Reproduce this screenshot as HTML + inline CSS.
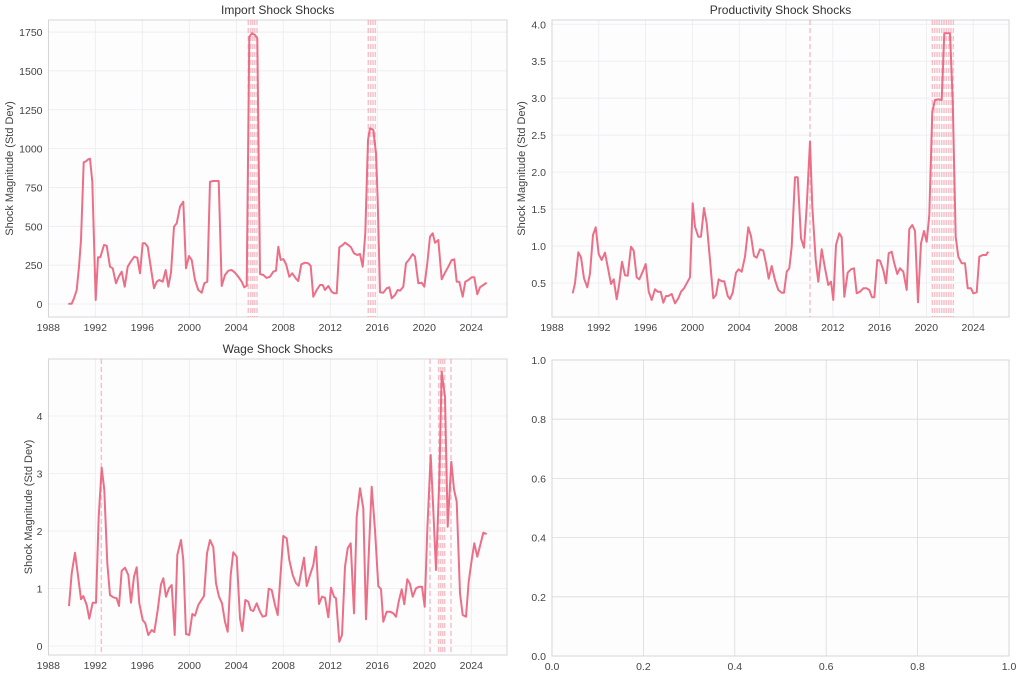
<!DOCTYPE html>
<html><head><meta charset="utf-8">
<style>
html,body{margin:0;padding:0;background:#fff;}
svg{display:block;font-family:"Liberation Sans",sans-serif;}
</style></head>
<body>
<svg id="s" width="1024" height="679" viewBox="0 0 1024 679" xmlns="http://www.w3.org/2000/svg">
<rect width="1024" height="679" fill="#ffffff"/>
</svg>
<script>
const S=document.getElementById('s');const NS='http://www.w3.org/2000/svg';
function el(t,a,txt){const e=document.createElementNS(NS,t);for(const k in a)e.setAttribute(k,a[k]);if(txt!==undefined)e.textContent=txt;S.appendChild(e);return e;}
function dl(d,y0,y1){el('line',{x1:d,x2:d,y1:y0,y2:y1,stroke:'#f49aa8','stroke-width':1.5,'stroke-dasharray':'5 3',opacity:0.6});}
function panel(o){
 el('rect',{x:o.x0,y:o.y0,width:o.x1-o.x0,height:o.y1-o.y0,fill:'#fdfdfe'});
 o.xt.forEach(t=>{el('line',{x1:t[0],x2:t[0],y1:o.y0,y2:o.y1,stroke:o.gc,'stroke-width':0.8});
  el('text',{x:t[0],y:o.y1+14,'font-size':10.5,fill:'#444','text-anchor':'middle'},t[1]);});
 o.yt.forEach(t=>{el('line',{x1:o.x0,x2:o.x1,y1:t[0],y2:t[0],stroke:o.gc,'stroke-width':0.8});
  el('text',{x:o.x0-6,y:t[0]+4,'font-size':10.5,fill:'#444','text-anchor':'end'},t[1]);});
 el('rect',{x:o.x0,y:o.y0,width:o.x1-o.x0,height:o.y1-o.y0,fill:'none',stroke:'#d6d6d9','stroke-width':1});
 if(o.title)el('text',{x:(o.x0+o.x1)/2,y:o.y0-6,'font-size':12,fill:'#333','text-anchor':'middle'},o.title);
 if(o.ylab){const cx=o.ylx,cy=(o.y0+o.y1)/2;el('text',{x:cx,y:cy,'font-size':11,fill:'#444','text-anchor':'middle',transform:`rotate(-90 ${cx} ${cy})`},o.ylab);}
 (o.dash||[]).forEach(d=>dl(d,o.y0,o.y1));
 if(o.pts){const p=o.pts.trim().split(/\s+/).map(s=>{const [a,b]=s.split(',').map(Number);return (a/3+o.ox).toFixed(1)+','+(b/3+o.oy).toFixed(1);}).join(' ');
  el('polyline',{points:p,fill:'none',stroke:'#ea5f7b','stroke-width':2,'stroke-linejoin':'round',opacity:0.9});}
}
function yrs(x0,per){const a=[];for(let i=0;i<10;i++)a.push([x0+i*per,String(1988+4*i)]);return a;}
panel({x0:48.5,x1:507,y0:20,y1:317,gc:'#ececf0',title:'Import Shock Shocks',ylab:'Shock Magnitude (Std Dev)',ylx:13,
 xt:yrs(48.3,47),yt:[0,250,500,750,1000,1250,1500,1750].map(v=>[304-v*0.1554,String(v)]),
 dash:[248.3,250.7,252.7,254.7,257,368.3,370.7,373,375.3],ox:0,oy:0,
 pts:`205,911 215,911 222,895 230,870 237,800 243,720 251,487 258,484 265,478 270,476 277,545 287,900 294,772 301,772 312,735 320,737 330,800 338,805 348,850 356,830 365,815 374,860 383,800 392,785 403,770 412,773 420,820 428,730 435,730 443,740 452,800 462,865 470,845 478,840 488,845 497,810 505,860 513,818 522,680 530,670 540,620 550,605 558,805 567,768 575,780 585,840 595,870 605,878 613,850 622,845 630,545 640,543 656,543 665,858 675,825 685,812 695,810 705,818 715,830 725,845 733,862 740,857 748,110 756,100 765,105 772,115 780,822 790,825 800,834 810,830 820,815 828,812 835,740 842,780 850,777 858,792 868,830 877,820 887,835 895,843 904,793 915,788 925,790 932,798 940,890 950,870 960,855 968,855 975,870 985,858 995,875 1002,880 1010,880 1018,742 1028,735 1035,728 1045,735 1053,742 1062,760 1072,765 1080,762 1088,800 1096,700 1104,420 1110,385 1120,390 1128,460 1133,600 1140,877 1150,878 1160,865 1168,862 1175,895 1185,885 1193,870 1200,872 1210,860 1218,790 1228,778 1238,762 1245,770 1255,850 1265,848 1273,860 1282,790 1290,710 1298,700 1305,728 1315,720 1325,838 1335,818 1345,800 1355,780 1363,778 1370,845 1378,845 1388,890 1396,845 1405,840 1415,832 1423,832 1432,883 1440,862 1450,855 1460,848`});
const pr=[];for(let v=0.5;v<=4.01;v+=0.5)pr.push([283-(v-0.5)/0.5*36.96,v.toFixed(1)]);
const dtr=[810];for(let i=0;i<10;i++)dtr.push(500+(1297+i*7)/3);
panel({x0:552,x1:1009,y0:20,y1:317,gc:'#ececf0',title:'Productivity Shock Shocks',ylab:'Shock Magnitude (Std Dev)',ylx:525,
 xt:yrs(552,46.8),yt:pr,dash:dtr,ox:500,oy:0,
 pts:`218,880 225,850 235,757 243,772 252,835 262,862 270,820 279,705 287,682 296,762 305,780 315,758 323,800 333,852 341,838 350,898 358,850 366,785 375,826 383,827 393,740 401,752 410,832 418,838 428,815 437,792 446,875 455,900 465,868 473,875 482,875 490,908 498,888 505,888 515,882 525,910 535,895 543,875 552,865 560,850 570,832 578,610 585,680 595,710 603,710 612,624 620,670 630,780 640,895 648,885 656,838 665,844 673,844 683,888 690,897 698,878 708,818 716,808 725,815 735,770 745,682 753,708 762,768 770,773 780,748 790,752 798,790 806,836 815,798 825,840 835,870 845,878 852,878 860,815 868,805 875,740 885,532 893,532 903,715 912,743 920,620 930,425 937,620 947,780 955,845 965,748 975,805 985,855 993,845 1000,900 1008,735 1018,700 1025,712 1033,890 1043,818 1053,808 1062,805 1070,880 1080,875 1090,865 1100,865 1108,870 1116,892 1123,892 1132,780 1140,782 1150,810 1158,850 1166,760 1175,755 1183,790 1192,822 1200,805 1210,815 1220,870 1228,687 1237,675 1245,693 1254,907 1263,730 1272,693 1280,725 1288,645 1297,335 1305,300 1315,298 1325,300 1333,100 1350,100 1358,300 1367,710 1375,770 1385,790 1395,790 1403,865 1413,865 1420,880 1430,877 1438,770 1448,765 1458,765 1465,755`});
panel({x0:48.5,x1:507,y0:359,y1:655,gc:'#ececf0',title:'Wage Shock Shocks',ylab:'Shock Magnitude (Std Dev)',ylx:32,
 xt:yrs(48.3,47),yt:[0,1,2,3,4].map(v=>[646-v*57.5,String(v)]),
 dash:[304,1290,1316,1322,1328,1334,1353].map(v=>v/3),ox:0,oy:330,
 pts:`207,828 215,730 225,668 233,730 243,808 250,798 260,825 268,866 278,818 288,818 296,560 305,413 313,480 322,700 330,795 340,802 350,805 357,828 365,722 375,713 385,735 393,818 402,740 410,712 418,820 428,870 436,880 445,915 455,900 463,906 473,840 483,763 490,745 498,800 507,775 515,765 524,915 532,675 543,630 550,690 558,912 568,915 577,852 585,857 595,825 603,812 612,798 621,670 630,630 640,652 648,760 657,800 666,820 675,875 683,905 692,735 700,667 710,680 720,865 727,903 736,810 745,815 752,840 760,843 770,820 780,845 788,860 798,857 806,776 815,780 825,825 833,855 850,618 860,625 868,690 878,735 888,760 896,767 904,725 912,683 920,768 930,735 940,705 948,650 957,822 966,800 975,803 985,862 993,773 1002,800 1008,805 1018,935 1026,915 1035,710 1043,655 1052,640 1062,850 1070,560 1080,475 1090,535 1098,868 1107,655 1115,470 1125,600 1135,768 1143,778 1150,875 1160,845 1170,845 1180,850 1188,860 1196,815 1205,778 1213,823 1222,748 1230,762 1238,800 1248,775 1258,770 1266,770 1274,830 1282,600 1292,375 1300,540 1308,720 1318,450 1325,125 1335,200 1343,590 1354,395 1362,478 1370,515 1380,790 1388,855 1398,860 1406,755 1415,690 1423,640 1432,680 1442,640 1450,608 1460,612`});
const bx=[],by=[];for(let i=0;i<=5;i++){bx.push([552+i*91.4,(i*0.2).toFixed(1)]);by.push([656-i*59.2,(i*0.2).toFixed(1)]);}
panel({x0:552,x1:1009,y0:360,y1:656,gc:'#dcdcdf',xt:bx,yt:by});
</script>
</body></html>
